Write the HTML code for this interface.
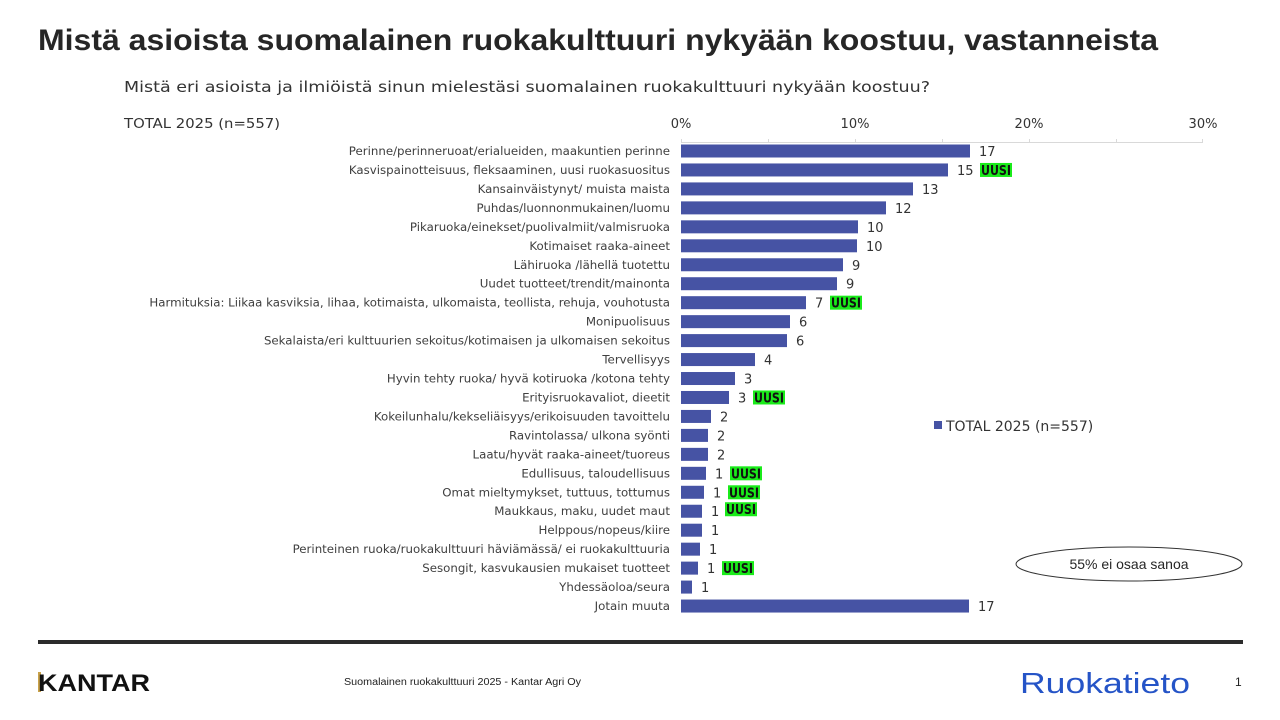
<!DOCTYPE html>
<html><head><meta charset="utf-8"><style>
body{margin:0;width:1280px;height:720px;background:#fff;overflow:hidden}
svg{display:block}
</style></head><body>
<svg width="1280" height="720" xmlns="http://www.w3.org/2000/svg">
<text x="38" y="50" font-family="Liberation Sans, sans-serif" font-weight="bold" font-size="30" fill="#262626" textLength="1120" lengthAdjust="spacingAndGlyphs">Mistä asioista suomalainen ruokakulttuuri nykyään koostuu, vastanneista</text>
<text x="124" y="92" font-family="DejaVu Sans, sans-serif" font-size="15.5" fill="#333" textLength="806" lengthAdjust="spacingAndGlyphs">Mistä eri asioista ja ilmiöistä sinun mielestäsi suomalainen ruokakulttuuri nykyään koostuu?</text>
<text x="124" y="128" font-family="DejaVu Sans, sans-serif" font-size="13" fill="#333" textLength="156" lengthAdjust="spacingAndGlyphs">TOTAL 2025 (n=557)</text>
<g font-family="DejaVu Sans, sans-serif" font-size="13" fill="#333" text-anchor="middle">
<text x="681" y="128">0%</text><text x="855" y="128">10%</text><text x="1029" y="128">20%</text><text x="1203" y="128">30%</text>
</g>
<g stroke="#d9d9d9" stroke-width="1">
<line x1="681" y1="142.5" x2="1203" y2="142.5"/>
<line x1="681.5" y1="139" x2="681.5" y2="143"/><line x1="768.5" y1="139" x2="768.5" y2="143"/><line x1="855.5" y1="139" x2="855.5" y2="143"/><line x1="942.5" y1="139" x2="942.5" y2="143"/><line x1="1029.5" y1="139" x2="1029.5" y2="143"/><line x1="1116.5" y1="139" x2="1116.5" y2="143"/><line x1="1202.5" y1="139" x2="1202.5" y2="143"/>
</g>
<g id="rows" font-family="DejaVu Sans, sans-serif" font-size="11.8" fill="#404040"></g>
<rect x="934" y="421" width="8" height="8" fill="#4653a4"/>
<text x="946" y="431" font-family="DejaVu Sans, sans-serif" font-size="14" fill="#333">TOTAL 2025 (n=557)</text>
<ellipse cx="1129" cy="564" rx="113" ry="17" fill="#fff" stroke="#333" stroke-width="1"/>
<text x="1129" y="569" text-anchor="middle" font-family="Liberation Sans, sans-serif" font-size="14" fill="#262626">55% ei osaa sanoa</text>
<rect x="38" y="640" width="1205" height="4" fill="#2b2b2b"/>
<rect x="38" y="672" width="3" height="20" fill="#c9a24a"/>
<text x="38" y="691" font-family="Liberation Sans, sans-serif" font-weight="bold" font-size="24" fill="#111" textLength="112" lengthAdjust="spacingAndGlyphs">KANTAR</text>
<text x="344" y="685" font-family="Liberation Sans, sans-serif" font-size="10" fill="#222" textLength="237" lengthAdjust="spacingAndGlyphs">Suomalainen ruokakulttuuri 2025 - Kantar Agri Oy</text>
<text x="1020" y="693" font-family="Liberation Sans, sans-serif" font-size="29" fill="#2554c7" textLength="170" lengthAdjust="spacingAndGlyphs">Ruokatieto</text>
<text x="1235" y="686" font-family="Liberation Sans, sans-serif" font-size="12" fill="#222">1</text>
</svg>
<script>
var d=[["Perinne/perinneruoat/erialueiden, maakuntien perinne",17,970,0],
["Kasvispainotteisuus, fleksaaminen, uusi ruokasuositus",15,948,1],
["Kansainväistynyt/ muista maista",13,913,0],
["Puhdas/luonnonmukainen/luomu",12,886,0],
["Pikaruoka/einekset/puolivalmiit/valmisruoka",10,858,0],
["Kotimaiset raaka-aineet",10,857,0],
["Lähiruoka /lähellä tuotettu",9,843,0],
["Uudet tuotteet/trendit/mainonta",9,837,0],
["Harmituksia: Liikaa kasviksia, lihaa, kotimaista, ulkomaista, teollista, rehuja, vouhotusta",7,806,1],
["Monipuolisuus",6,790,0],
["Sekalaista/eri kulttuurien sekoitus/kotimaisen ja ulkomaisen sekoitus",6,787,0],
["Tervellisyys",4,755,0],
["Hyvin tehty ruoka/ hyvä kotiruoka /kotona tehty",3,735,0],
["Erityisruokavaliot, dieetit",3,729,1],
["Kokeilunhalu/kekseliäisyys/erikoisuuden tavoittelu",2,711,0],
["Ravintolassa/ ulkona syönti",2,708,0],
["Laatu/hyvät raaka-aineet/tuoreus",2,708,0],
["Edullisuus, taloudellisuus",1,706,1],
["Omat mieltymykset, tuttuus, tottumus",1,704,1],
["Maukkaus, maku, uudet maut",1,702,2],
["Helppous/nopeus/kiire",1,702,0],
["Perinteinen ruoka/ruokakulttuuri häviämässä/ ei ruokakulttuuria",1,700,0],
["Sesongit, kasvukausien mukaiset tuotteet",1,698,1],
["Yhdessäoloa/seura",1,692,0],
["Jotain muuta",17,969,0]];
var g=document.getElementById("rows"),h="";
d.forEach(function(r,i){var cy=151+i*18.96;
h+='<text x="670" y="'+(cy+4)+'" text-anchor="end">'+r[0]+'</text>';
h+='<rect x="681" y="'+(cy-6.5)+'" width="'+(r[2]-681)+'" height="13" fill="#4653a4"/>';
var vx=r[2]+9;
h+='<text x="'+vx+'" y="'+(cy+5)+'" font-size="13" fill="#333">'+r[1]+'</text>';
if(r[3]){var ux=vx+(r[1]>=10?23:15);if(r[3]==2){ux=vx+14;cy-=2;}
h+='<rect x="'+ux+'" y="'+(cy-7)+'" width="32" height="14" fill="#1aeb1a"/><text x="'+(ux+1)+'" y="'+(cy+5)+'" font-size="13" font-weight="bold" fill="#111" textLength="30" lengthAdjust="spacingAndGlyphs">UUSI</text>';}
});
g.innerHTML=h;
</script>
</body></html>
